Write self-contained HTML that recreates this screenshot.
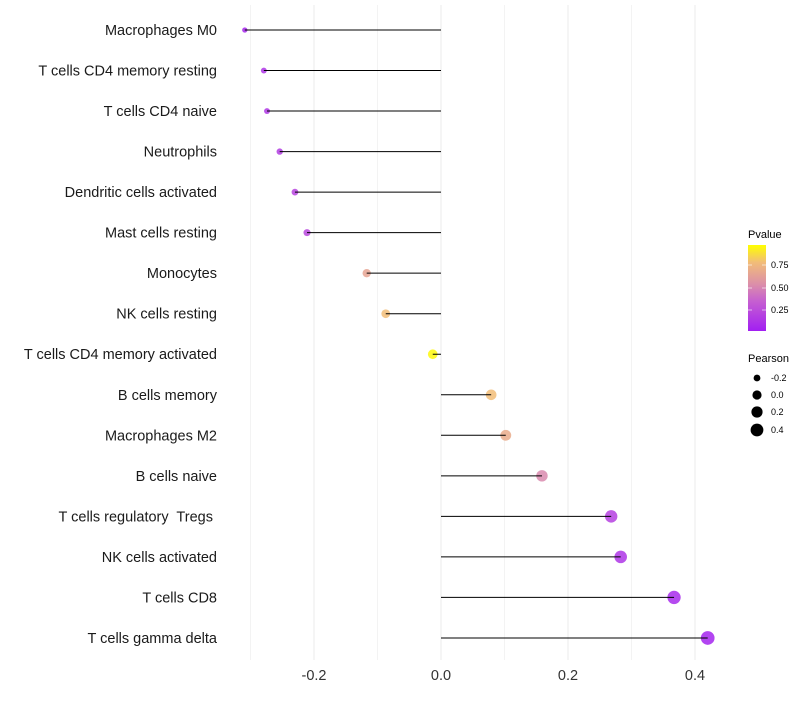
<!DOCTYPE html>
<html><head><meta charset="utf-8"><style>
body{margin:0;background:#fff;font-family:"Liberation Sans",sans-serif}
text{white-space:pre}
</style></head><body>
<svg id="chart" width="800" height="700" xmlns="http://www.w3.org/2000/svg">
<defs><linearGradient id="pg" x1="0" y1="1" x2="0" y2="0">
<stop offset="0" stop-color="#a21ff2"/><stop offset="0.35" stop-color="#c660d0"/><stop offset="0.55" stop-color="#dc90a8"/><stop offset="0.8" stop-color="#f2bd78"/><stop offset="1" stop-color="#ffff00"/>
</linearGradient></defs>
<g id="grid"></g><g id="dots"></g><g id="marks"></g><g id="labels"></g><g id="ticks"></g>
<g font-size="10" fill="#000">
<text x="748" y="238" font-size="11">Pvalue</text>
<rect x="748" y="245" width="18" height="86" fill="url(#pg)"/>
<line x1="748" y1="265" x2="752" y2="265" stroke="#fff" opacity="0.6"/><line x1="762" y1="265" x2="766" y2="265" stroke="#fff" opacity="0.6"/>
<line x1="748" y1="288" x2="752" y2="288" stroke="#fff" opacity="0.6"/><line x1="762" y1="288" x2="766" y2="288" stroke="#fff" opacity="0.6"/>
<line x1="748" y1="310" x2="752" y2="310" stroke="#fff" opacity="0.6"/><line x1="762" y1="310" x2="766" y2="310" stroke="#fff" opacity="0.6"/>
<text x="771" y="268" font-size="9">0.75</text><text x="771" y="291" font-size="9">0.50</text><text x="771" y="313" font-size="9">0.25</text>
</g>
<g fill="#000">
<text x="748" y="362" font-size="11">Pearson</text>
<circle cx="757" cy="378" r="3.4"/><text x="771" y="381" font-size="9">-0.2</text>
<circle cx="757" cy="395" r="4.6"/><text x="771" y="398" font-size="9">0.0</text>
<circle cx="757" cy="412" r="5.6"/><text x="771" y="415" font-size="9">0.2</text>
<circle cx="757" cy="430" r="6.4"/><text x="771" y="433" font-size="9">0.4</text>
</g>
</svg>
<script>
const categories=["Macrophages M0","T cells CD4 memory resting","T cells CD4 naive","Neutrophils","Dendritic cells activated","Mast cells resting","Monocytes","NK cells resting","T cells CD4 memory activated","B cells memory","Macrophages M2","B cells naive","T cells regulatory  Tregs ","NK cells activated","T cells CD8","T cells gamma delta"];
const pearson=[-0.309,-0.279,-0.274,-0.254,-0.230,-0.211,-0.117,-0.087,-0.013,0.079,0.102,0.159,0.268,0.283,0.367,0.420];
const pvalue=[0.05,0.12,0.13,0.16,0.2,0.22,0.66,0.8,0.98,0.8,0.7,0.52,0.18,0.12,0.06,0.03];
const xTicks=[-0.2,0.0,0.2,0.4];
const xGrid=[-0.3,-0.2,-0.1,0,0.1,0.2,0.3,0.4];
const NS="http://www.w3.org/2000/svg";
const xS=v=>441+v*635;
const yS=i=>30+i*40.53;
const rS=v=>Math.sqrt(Math.max(3,24+55*v));
const stops=[[0,[162,31,242]],[0.35,[198,96,208]],[0.55,[220,144,168]],[0.8,[242,189,120]],[1,[255,255,0]]];
function col(p){for(let k=1;k<stops.length;k++){if(p<=stops[k][0]){const a=stops[k-1],b=stops[k],t=(p-a[0])/(b[0]-a[0]);return "rgb("+a[1].map((c,j)=>Math.round(c+(b[1][j]-c)*t)).join(",")+")";}}return "rgb(255,255,0)";}
function mk(t,at,parent){const e=document.createElementNS(NS,t);for(const k in at)e.setAttribute(k,at[k]);document.getElementById(parent).appendChild(e);return e;}
xGrid.forEach(v=>{const major=Math.abs(Math.round(v*10))%2===0;const l=mk("line",{x1:xS(v),x2:xS(v),y1:5,y2:660,stroke:major?"#ebebeb":"#f3f3f3","stroke-width":1},"grid");

});
categories.forEach((c,i)=>{const y=yS(i);
const d=mk("circle",{cx:xS(pearson[i]),cy:y,r:rS(pearson[i]),fill:col(pvalue[i]),"fill-opacity":0.85},"dots");


const s=mk("line",{x1:xS(0),x2:xS(pearson[i]),y1:y,y2:y,stroke:"#000","stroke-width":1},"marks");


const t=mk("text",{x:217,y:y+5,"text-anchor":"end","font-size":"14.5",fill:"#1a1a1a"},"labels");t.textContent=c;

});
xTicks.forEach(v=>{const t=mk("text",{x:xS(v),y:680,"text-anchor":"middle","font-size":"14.5",fill:"#333"},"ticks");t.textContent=v.toFixed(1);

});
</script>
</body></html>
